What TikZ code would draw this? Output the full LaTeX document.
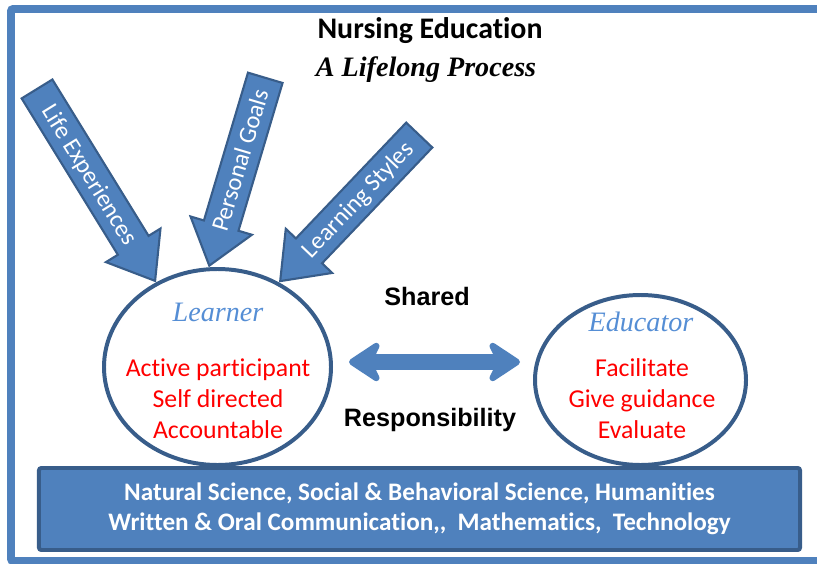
\documentclass[tikz,border=0pt]{standalone}
\usepackage{fontspec}
\setmainfont{Carlito}[Ligatures={TeX,NoCommon}]
\newfontfamily\boldsans{Liberation Sans}
\newfontfamily\romanfont{Liberation Serif}
\usetikzlibrary{shapes.arrows,shapes.geometric,arrows.meta,positioning}

\definecolor{boxblue}{RGB}{79,129,189}
\definecolor{edgeblue}{RGB}{56,93,138}
\definecolor{roleblue}{RGB}{85,142,213}

\tikzstyle{bubble}=[ellipse, draw=edgeblue, line width=3.4, fill=white, inner sep=0]
\tikzstyle{feeder}=[single arrow, draw=edgeblue, fill=boxblue, line width=1.8, text=white,
  font=\fontsize{21}{25}\selectfont, single arrow head extend=0.42cm,
  single arrow head indent=0, single arrow tip angle=75, inner ysep=0,
  text height=21pt, text depth=8pt, anchor=tip]
\tikzstyle{role}=[text=roleblue, font=\romanfont\itshape\fontsize{24}{28}\selectfont]
\tikzstyle{duty}=[text=red, align=center, font=\fontsize{22}{26.4}\selectfont]
\tikzstyle{shared}=[font=\boldsans\bfseries\fontsize{21.5}{26}\selectfont]
\tikzstyle{duplex}=[boxblue, line width=14.5, {Stealth[round, length=32pt, width=42pt, inset=10pt]}-{Stealth[round, length=32pt, width=42pt, inset=10pt]}]

\begin{document}
\begin{tikzpicture}[x=0.03cm, y=-0.03cm]
  \useasboundingbox (0,0) rectangle (817,564);
  % outer frame, runs past the right edge
  \draw[boxblue, line width=6.8, rounded corners=2] (11,9) rectangle (850,561);

  \node[font=\bfseries\fontsize{25.5}{30}\selectfont] (title) at (430,31) {Nursing Education};
  \node[font=\romanfont\bfseries\itshape\fontsize{24}{28}\selectfont] (motto) at (426,70) {A Lifelong Process};

  \node[bubble, minimum width=6.81cm, minimum height=5.88cm] (learner) at (217.5,367) {};
  \node[bubble, minimum width=6.33cm, minimum height=5.1cm] (educator) at (640.5,380) {};

  % what the learner brings
  \node[feeder, minimum height=6.76cm, rotate=-58.4] (life) at (learner.126.3) {Life Experiences};
  \node[feeder, minimum height=5.88cm, rotate=73.4, shape border rotate=180] (goals) at (learner.95.3) {Personal Goals};
  \node[feeder, minimum height=6.05cm, rotate=46.4, shape border rotate=180] (styles) at (learner.54.6) {Learning Styles};

  \node[role] (learnername) at (218,312) {Learner};
  \node[duty] (learnerduty) at (218,399) {Active participant\\Self directed\\Accountable};
  \node[role] (educatorname) at (641,322) {Educator};
  \node[duty] (educatorduty) at (642,399) {Facilitate\\Give guidance\\Evaluate};

  \draw[duplex] ([shift={(16,-5)}]learner.east) -- ([shift={(-13,-5)}]learner.east -| educator.west);
  \node[shared] (sharedtop) at (427,296) {Shared};
  \node[shared] (sharedbottom) at (430,420) {Responsibility};

  \node[fill=boxblue, draw=edgeblue, line width=3.4, rounded corners=2, minimum width=22.83cm,
    minimum height=2.46cm, text=white, align=center, font=\bfseries\fontsize{21.5}{25.5}\selectfont]
    (basis) at (419.5,509) {Natural Science, Social \& Behavioral Science, Humanities\\Written \& Oral Communication,{},~ Mathematics,~ Technology};
\end{tikzpicture}
\end{document}
